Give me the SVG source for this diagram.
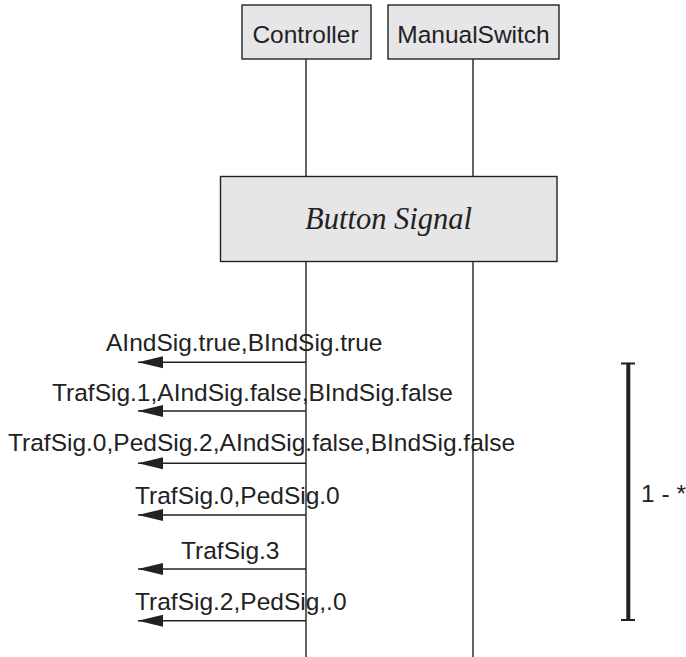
<svg xmlns="http://www.w3.org/2000/svg" width="686" height="657" viewBox="0 0 686 657">
<style>
.box{fill:#e6e6e8;stroke:#222;stroke-width:1.4}
.life{stroke:#222;stroke-width:1.4;fill:none}
.msg{stroke:#222;stroke-width:1.4;fill:none;marker-end:url(#ah)}
.t{font-family:"Liberation Sans",Arial,sans-serif;font-size:24.5px;fill:#222}
.ti{font-family:"Liberation Serif","Times New Roman",serif;font-style:italic;font-size:30.5px;fill:#222}
</style>
<defs>
<marker id="ah" markerWidth="26" markerHeight="14" refX="25" refY="7" orient="auto" markerUnits="userSpaceOnUse">
<path d="M0,1 L25,7 L0,13 Z" fill="#222"/>
</marker>
</defs>
<rect width="686" height="657" fill="#fff"/>
<g id="lifelines">
<line class="life" x1="306" y1="59" x2="306" y2="657"/>
<line class="life" x1="473" y1="59" x2="473" y2="657"/>
</g>
<g id="controller">
<rect class="box" x="242" y="5" width="129" height="54"/>
<text class="t" x="305.5" y="42.5" text-anchor="middle">Controller</text>
</g>
<g id="manualswitch">
<rect class="box" x="388" y="5" width="171" height="54"/>
<text class="t" x="473.5" y="42.5" text-anchor="middle">ManualSwitch</text>
</g>
<g id="buttonsignal">
<rect class="box" x="220.5" y="176.5" width="336.5" height="85"/>
<text class="ti" x="388.5" y="228.5" text-anchor="middle">Button Signal</text>
</g>
<g id="connectors">
<line class="msg" x1="306" y1="362.3" x2="138" y2="362.3"/>
<line class="msg" x1="306" y1="411" x2="138" y2="411"/>
<line class="msg" x1="306" y1="463.3" x2="138" y2="463.3"/>
<line class="msg" x1="306" y1="515" x2="138" y2="515"/>
<line class="msg" x1="306" y1="569" x2="138" y2="569"/>
<line class="msg" x1="306" y1="620.7" x2="138" y2="620.7"/>
</g>
<g id="labels">
<text class="t" x="106" y="351">AIndSig.true,BIndSig.true</text>
<text class="t" x="52" y="401">TrafSig.1,AIndSig.false,BIndSig.false</text>
<text class="t" x="8" y="451">TrafSig.0,PedSig.2,AIndSig.false,BIndSig.false</text>
<text class="t" x="135" y="504">TrafSig.0,PedSig.0</text>
<text class="t" x="181" y="558.5">TrafSig.3</text>
<text class="t" x="135" y="609.5">TrafSig.2,PedSig,.0</text>
</g>
<g id="repeat">
<line stroke="#222" stroke-width="4" x1="628.3" y1="362.7" x2="628.3" y2="620.7"/>
<line stroke="#222" stroke-width="2" x1="621" y1="363.5" x2="635" y2="363.5"/>
<line stroke="#222" stroke-width="2" x1="621" y1="620" x2="635" y2="620"/>
<text class="t" x="641" y="502" font-size="23.5">1 - *</text>
</g>
</svg>
